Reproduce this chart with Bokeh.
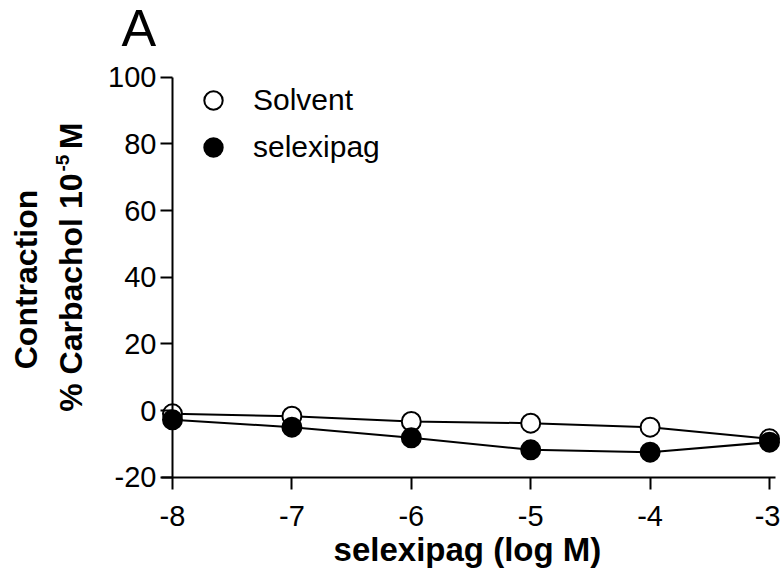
import math
from bokeh.plotting import figure
from bokeh.models import Label, Legend, LegendItem, FixedTicker
from bokeh.embed import file_html
from bokeh.resources import INLINE

# ---- data ----
log_conc = [-8, -7, -6, -5, -4, -3]
solvent = [-1.0, -1.7, -3.3, -3.8, -5.0, -8.5]
selexipag = [-2.8, -5.0, -8.2, -11.8, -12.5, -9.5]
x_ticks = [-8, -7, -6, -5, -4, -3]
y_ticks = [-20, 0, 20, 40, 60, 80, 100]
series_names = ["Solvent", "selexipag"]

FONT = "Liberation Sans"

# layout: the frame covers the whole canvas; axes are placed at fixed data
# positions so that nothing is clipped.
W, H = 780, 573
X0_PX, X_SCALE = 172, 119.4      # canvas px of x=-8, px per unit
Y0_PX, Y_SCALE = 410, 3.3333     # canvas px of y=0, px per unit
x_start = -8 - X0_PX / X_SCALE
x_end = -8 + (W - X0_PX) / X_SCALE
y_end = Y0_PX / Y_SCALE
y_start = -(H - Y0_PX) / Y_SCALE

p = figure(width=W, height=H, x_range=(x_start, x_end), y_range=(y_start, y_end),
           output_backend="svg", toolbar_location=None,
           min_border_left=0, min_border_right=0,
           min_border_top=0, min_border_bottom=0)
p.outline_line_color = None
p.grid.visible = False
p.background_fill_color = "white"
p.border_fill_color = "white"

p.xaxis.fixed_location = -20
p.yaxis.fixed_location = -8
p.xaxis.bounds = (-8.092, -2.95)
p.yaxis.bounds = (-20, 100)
p.xaxis.ticker = FixedTicker(ticks=x_ticks)
p.yaxis.ticker = FixedTicker(ticks=y_ticks)
p.xaxis.major_label_overrides = {t: str(t) for t in x_ticks}
p.yaxis.major_label_overrides = {t: str(t) for t in y_ticks}
for ax in (p.xaxis, p.yaxis):
    ax.axis_line_width = 2
    ax.axis_line_color = "black"
    ax.major_tick_line_width = 2
    ax.major_tick_line_color = "black"
    ax.major_tick_out = 12
    ax.major_tick_in = 0
    ax.minor_tick_out = 0
    ax.minor_tick_in = 0
    ax.major_label_text_font = FONT
    ax.major_label_text_font_size = "29px"
    ax.major_label_text_color = "black"
p.xaxis.major_label_standoff = 17
p.yaxis.major_label_standoff = 4

p.line(log_conc, solvent, line_width=2, line_color="black")
p.line(log_conc, selexipag, line_width=2, line_color="black")
r1 = p.scatter(log_conc, solvent, size=19, fill_color="white",
               line_color="black", line_width=2)
r2 = p.scatter(log_conc, selexipag, size=19, fill_color="black",
               line_color="black", line_width=2)

legend = Legend(items=[LegendItem(label=series_names[0], renderers=[r1]),
                       LegendItem(label=series_names[1], renderers=[r2])],
                location=(190, 403), margin=0, padding=0,
                glyph_width=46, glyph_height=46, label_height=46,
                spacing=1, label_standoff=17,
                border_line_color=None, background_fill_alpha=0,
                label_text_font=FONT, label_text_font_size="30px",
                label_text_color="black")
p.add_layout(legend)

p.add_layout(Label(x=-8, y=100, x_offset=-51, y_offset=49, text="A",
                   text_font=FONT, text_font_size="52px", text_color="black",
                   text_align="left", text_baseline="alphabetic"))

p.add_layout(Label(x=-5.53, y=-20, y_offset=-72, text="selexipag (log M)",
                   text_font=FONT, text_font_size="33px", text_font_style="bold",
                   text_color="black", text_align="center",
                   text_baseline="alphabetic"))

# rotated y axis title
p.add_layout(Label(x=-8, y=39.3, x_offset=-147, angle=math.pi / 2,
                   text="Contraction", text_font=FONT, text_font_size="32px",
                   text_font_style="bold", text_color="black",
                   text_align="center", text_baseline="alphabetic"))
p.add_layout(Label(x=-8, y=71.1, x_offset=-102, angle=math.pi / 2,
                   text="% Carbachol 10", text_font=FONT, text_font_size="32px",
                   text_font_style="bold", text_color="black",
                   text_align="right", text_baseline="alphabetic"))
p.add_layout(Label(x=-8, y=71.7, x_offset=-110, angle=math.pi / 2,
                   text="-5", text_font=FONT, text_font_size="19px",
                   text_font_style="bold", text_color="black",
                   text_align="left", text_baseline="alphabetic"))
p.add_layout(Label(x=-8, y=86.4, x_offset=-102, angle=math.pi / 2,
                   text="M", text_font=FONT, text_font_size="32px",
                   text_font_style="bold", text_color="black",
                   text_align="right", text_baseline="alphabetic"))

open("out.html", "w").write(file_html(p, INLINE))
